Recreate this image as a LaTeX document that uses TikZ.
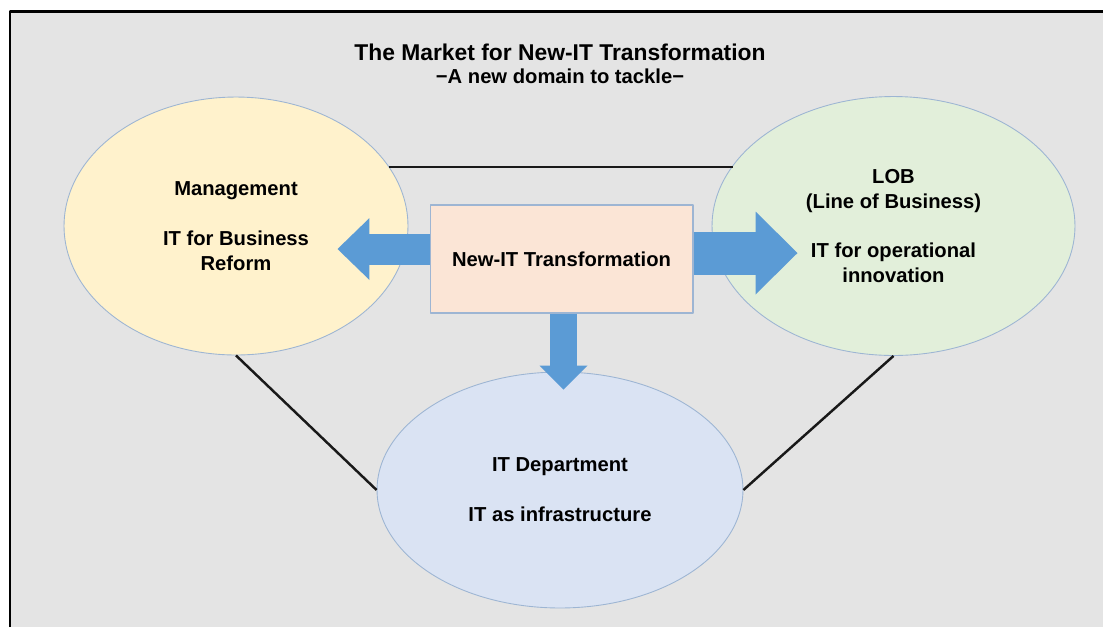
\documentclass[tikz,border=0pt]{standalone}
\usepackage{fontspec}
\setmainfont{Liberation Sans}
\usetikzlibrary{shapes.geometric,arrows.meta,calc}
\definecolor{paneGray}{HTML}{E4E4E4}
\definecolor{mgmtFill}{HTML}{FFF2CC}
\definecolor{lobFill}{HTML}{E2EFDA}
\definecolor{itdFill}{HTML}{DAE3F3}
\definecolor{coreFill}{HTML}{FBE5D6}
\definecolor{ovalLine}{HTML}{9DB5D3}
\definecolor{arrowBlue}{HTML}{5B9BD5}
\begin{document}
\begin{tikzpicture}[x=0.02cm,y=-0.02cm,font=\fontsize{11.5}{14.2}\selectfont\bfseries,line join=round,
		oval/.style={ellipse,draw=ovalLine,line width=.5pt,inner sep=0pt,align=center},
		corebox/.style={rectangle,draw=ovalLine,fill=coreFill,line width=.6pt,minimum width=5.26cm,minimum height=2.16cm},
		link/.style={line width=1.4pt,black!90},
		blockarrow/.style={arrowBlue,line width=#1}]
			\def\W{1103} \def\H{627} % Kích thước
			\useasboundingbox (0,0) rectangle (\W,\H);
			\fill[white] (0,0) rectangle (\W,\H);
			\fill[paneGray] (10,11) rectangle (\W,\H);
			\draw[line width=1.7pt] (10,\H)--(10,11)--(\W,11);
			\node (title) at (560,52) {\fontsize{13}{16}\selectfont The Market for New-IT Transformation};
			\node (subtitle) at (560,76) {−A new domain to tackle−};
			\node[oval,fill=mgmtFill,minimum width=6.88cm,minimum height=5.16cm] (mgmt) at (236,226)
				{Management\\[14.2pt]IT for Business\\Reform};
			\node[oval,fill=lobFill,minimum width=7.26cm,minimum height=5.18cm] (lob) at (893.5,226)
				{LOB\\(Line of Business)\\[14.2pt]IT for operational\\innovation};
			\node[oval,fill=itdFill,minimum width=7.32cm,minimum height=4.72cm] (itd) at (560,490)
				{IT Department\\[14.2pt]IT as infrastructure};
			\draw[link] (mgmt.21)--(mgmt.21-|lob.159);
			\draw[link] (mgmt.south)--(itd.west);
			\draw[link] (lob.south)--(itd.east);
			\node[corebox] (core) at (561.5,259) {New-IT Transformation};
			\coordinate (tipL) at ($(core.west)+(-92,-10)$);
			\coordinate (tipR) at ($(core.east)+(104,-6)$);
			\coordinate (tipD) at ($(core.south)+(2,76)$);
			\draw[blockarrow=.62cm,-{Triangle[length=.64cm,width=1.24cm,line width=0pt]}] ($(core.west)+(0,-10)$)--(tipL);
			\draw[blockarrow=.86cm,-{Triangle[length=.84cm,width=1.66cm,line width=0pt]}] ($(core.east)+(0,-6)$)--(tipR);
			\draw[blockarrow=.54cm,-{Triangle[length=.48cm,width=.96cm,line width=0pt]}] ($(core.south)+(2,0)$)--(tipD);
		\end{tikzpicture}
\end{document}
